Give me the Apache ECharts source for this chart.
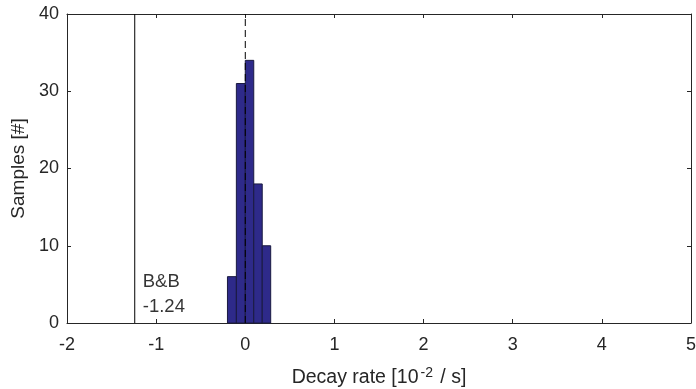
<!DOCTYPE html>
<html><head><meta charset="utf-8">
<script src="https://cdn.jsdelivr.net/npm/echarts@6/dist/echarts.min.js"></script>
<style>html,body{margin:0;padding:0;background:#fff}#c{width:696px;height:389px}</style>
</head><body><div id="c"></div>
<script>
var binEdges = [-0.2, -0.1, 0.0, 0.095, 0.19, 0.285];
var binCounts = [6, 31, 34, 18, 10];
var refValue = -1.24;
var refLabel = ['B&B', '-1.24'];
var xTicks = [-2, -1, 0, 1, 2, 3, 4, 5];
var yTicks = [0, 10, 20, 30, 40];

var bars = binCounts.map(function (c, i) { return [binEdges[i], binEdges[i + 1], c]; });
var font = 'Liberation Sans, Arial, Helvetica, sans-serif';
var txt = '#262626';
var fs = 18;
var chart = echarts.init(document.getElementById('c'));
var axisCommon = {
  type: 'value',
  axisLine: { show: true, onZero: false, lineStyle: { color: '#262626', width: 1 } },
  axisTick: { show: true, inside: true, length: 4, lineStyle: { color: '#262626' } },
  splitLine: { show: false }
};
chart.setOption({
  animation: false,
  grid: { left: 67, right: 5, top: 14, bottom: 66, containLabel: false, outerBoundsMode: 'none' },
  xAxis: [
    Object.assign({}, axisCommon, {
      min: -2, max: 5, interval: 1, position: 'bottom',
      axisLabel: { color: txt, fontSize: fs, fontFamily: font, margin: 13 },
      name: '{a|Decay rate [10}{s|-2}{a| / s]}', nameLocation: 'middle', nameGap: 43,
      nameTextStyle: { rich: { a: { fontSize: 19.5, fontFamily: font, color: txt }, s: { fontSize: 14, fontFamily: font, color: txt, verticalAlign: 'top', padding: [0, 2, 9, 2] } } }
    }),
    Object.assign({}, axisCommon, { min: -2, max: 5, interval: 1, position: 'top', axisLabel: { show: false } })
  ],
  yAxis: [
    Object.assign({}, axisCommon, {
      min: 0, max: 40, interval: 10, position: 'left',
      axisLabel: { color: txt, fontSize: fs, fontFamily: font, margin: 8 },
      name: 'Samples [#]', nameLocation: 'middle', nameGap: 34,
      nameTextStyle: { color: txt, fontSize: 19, fontFamily: font }
    }),
    Object.assign({}, axisCommon, { min: 0, max: 40, interval: 10, position: 'right', axisLabel: { show: false } })
  ],
  series: [
    {
      type: 'custom',
      data: bars,
      renderItem: function (params, api) {
        var p0 = api.coord([api.value(0), 0]);
        var p1 = api.coord([api.value(1), api.value(2)]);
        return {
          type: 'rect',
          shape: { x: p0[0], y: p1[1], width: p1[0] - p0[0], height: p0[1] - p1[1] },
          style: { fill: '#2e2a8a', stroke: '#1a1a40', lineWidth: 1 }
        };
      },
      z: 2
    },
    {
      type: 'line', data: [[0, 0], [0, 40]], symbol: 'none',
      lineStyle: { color: '#000', width: 1, type: [7, 4] }, z: 3
    },
    {
      type: 'line', data: [[refValue, 0], [refValue, 40]], symbol: 'none',
      lineStyle: { color: '#000', width: 1 }, z: 3
    },
    {
      type: 'scatter', symbolSize: 0,
      data: [[refValue + 0.09, 5.3], [refValue + 0.09, 2.1]],
      label: {
        show: true, position: 'right', distance: 0,
        formatter: function (p) { return refLabel[p.dataIndex]; },
        color: '#000', fontSize: 18.5, fontFamily: font
      }
    }
  ]
});
</script></body></html>
